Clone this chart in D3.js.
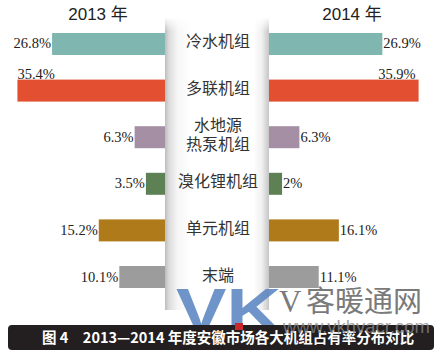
<!DOCTYPE html>
<html><head><meta charset="utf-8">
<script src="https://cdn.jsdelivr.net/npm/d3@7/dist/d3.min.js"></script>
<style>html,body{margin:0;padding:0;background:#fff;}svg{display:block;}</style>
</head><body>
<script>
const categories = ["冷水机组", "多联机组", "水地源\n热泵机组", "溴化锂机组", "单元机组", "末端"];
const values2013 = [26.8, 35.4, 6.3, 3.5, 15.2, 10.1];
const values2014 = [26.9, 35.9, 6.3, 2, 16.1, 11.1];
const labels2013 = ["26.8%", "35.4%", "6.3%", "3.5%", "15.2%", "10.1%"];
const labels2014 = ["26.9%", "35.9%", "6.3%", "2%", "16.1%", "11.1%"];
const colors = ["#80b6b0", "#e24f31", "#a48fa5", "#5d8055", "#ae7a1a", "#9c9c9c"];
const years = ["2013 年", "2014 年"];
const caption = "图 4　2013—2014 年度安徽市场各大机组占有率分布对比";

const W = 444, H = 356;
const svg = d3.select("body").append("svg").attr("width", W).attr("height", H);
const defs = svg.append("defs");
const g1 = defs.append("linearGradient").attr("id", "panelGrad").attr("x1", "0").attr("x2", "1").attr("y1", "0").attr("y2", "0");
[[0, "#bdbdbd"], [0.04, "#dcdcdc"], [0.12, "#f6f6f6"], [0.25, "#ffffff"], [0.85, "#ffffff"], [0.93, "#f0f0f0"], [1, "#c6c6c6"]]
  .forEach(([o, c]) => g1.append("stop").attr("offset", o).attr("stop-color", c));
const g2 = defs.append("linearGradient").attr("id", "panelTop").attr("x1", "0").attr("x2", "0").attr("y1", "0").attr("y2", "1");
[[0, "#ffffff", 1], [0.05, "#ffffff", 0]].forEach(([o, c, a]) => g2.append("stop").attr("offset", o).attr("stop-color", c).attr("stop-opacity", a));

const panelL = 165, panelR = 269;
const y = d3.scaleBand().domain(categories).range([21, 300]).paddingInner(0.528).paddingOuter(0.2575);
const w = d3.scaleLinear().domain([0, 36]).range([5, 150]);

// central panel
svg.append("rect").attr("x", panelL).attr("y", 17).attr("width", panelR - panelL).attr("height", 293).attr("fill", "url(#panelGrad)");
svg.append("rect").attr("x", panelL).attr("y", 17).attr("width", panelR - panelL).attr("height", 293).attr("fill", "url(#panelTop)");

// year titles
svg.selectAll("text.year").data(years).join("text").attr("class", "year")
  .attr("x", (d, i) => i === 0 ? 98 : 352).attr("y", 20)
  .attr("text-anchor", "middle").attr("font-family", "Liberation Sans, Noto Sans CJK SC, sans-serif")
  .attr("font-size", 17).attr("fill", "#222").text(d => d);

// bars 2013 (left)
svg.selectAll("rect.b13").data(values2013).join("rect").attr("class", "b13")
  .attr("x", d => panelL - w(d)).attr("y", (d, i) => y(categories[i]))
  .attr("width", d => w(d)).attr("height", y.bandwidth()).attr("fill", (d, i) => colors[i]);
// bars 2014 (right)
svg.selectAll("rect.b14").data(values2014).join("rect").attr("class", "b14")
  .attr("x", panelR).attr("y", (d, i) => y(categories[i]))
  .attr("width", d => w(d)).attr("height", y.bandwidth()).attr("fill", (d, i) => colors[i]);

const serif = "Liberation Serif, Times New Roman, serif";
const big = v => v > 30;
svg.selectAll("text.l13").data(values2013).join("text").attr("class", "l13")
  .attr("x", d => big(d) ? panelL - w(d) : panelL - w(d) - 1)
  .attr("y", (d, i) => big(d) ? y(categories[i]) - 1 : y(categories[i]) + y.bandwidth() / 2 + 4.5)
  .attr("text-anchor", d => big(d) ? "start" : "end")
  .attr("font-family", serif).attr("font-size", 14.5).attr("fill", "#222")
  .text((d, i) => labels2013[i]);
svg.selectAll("text.l14").data(values2014).join("text").attr("class", "l14")
  .attr("x", d => big(d) ? panelR + w(d) - 3 : panelR + w(d) + 1)
  .attr("y", (d, i) => big(d) ? y(categories[i]) - 1 : y(categories[i]) + y.bandwidth() / 2 + 4.5)
  .attr("text-anchor", d => big(d) ? "end" : "start")
  .attr("font-family", serif).attr("font-size", 14.5).attr("fill", "#222")
  .text((d, i) => labels2014[i]);

// category labels
const cx = (panelL + panelR) / 2;
categories.forEach(c => {
  const lines = c.split("\n");
  const mid = y(c) + y.bandwidth() / 2 - 2;
  lines.forEach((ln, k) => {
    svg.append("text").attr("x", cx + 1)
      .attr("y", mid + (k - (lines.length - 1) / 2) * 19.5 + 5.5)
      .attr("text-anchor", "middle").attr("font-family", "Noto Sans CJK SC, sans-serif")
      .attr("font-size", 16).attr("fill", "#333").text(ln);
  });
});

// watermark logo (behind caption)
svg.append("text").attr("transform", "translate(176,331) scale(1.22,1)")
  .attr("font-family", "Liberation Sans, sans-serif").attr("font-weight", "bold")
  .attr("font-size", 62).attr("fill", "#5b86c2").attr("opacity", 0.88).text("VK");

// caption bar
svg.append("rect").attr("x", 8).attr("y", 325).attr("width", 426).attr("height", 25).attr("rx", 4).attr("fill", "#231f20");
svg.append("text").attr("x", 42).attr("y", 343).attr("font-family", "Noto Sans CJK SC, sans-serif")
  .attr("font-weight", "bold").attr("font-size", 14.5).attr("fill", "#fff").text(caption);

// watermark text (over caption)
svg.append("rect").attr("x", 235).attr("y", 323).attr("width", 8).attr("height", 7).attr("fill", "#c9282d");
svg.append("text").attr("x", 279).attr("y", 312).attr("font-family", "Liberation Serif, serif")
  .attr("font-size", 31).attr("fill", "#7a7a7a").text("V");
svg.append("text").attr("x", 306).attr("y", 312).attr("font-family", "Noto Sans CJK SC, sans-serif")
  .attr("font-size", 29).attr("fill", "#7a7a7a").text("客暖通网");
svg.append("text").attr("x", 283).attr("y", 333).attr("font-family", "Liberation Sans, sans-serif")
  .attr("font-size", 18.5).attr("fill", "#888").attr("opacity", 0.75).text("www.vkhvacr.com");
</script>
</body></html>
